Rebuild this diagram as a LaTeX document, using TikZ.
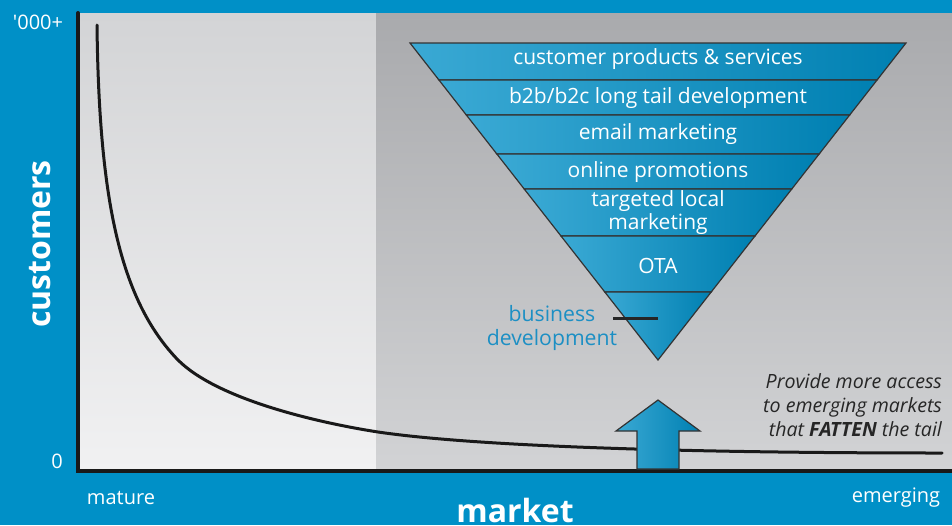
\documentclass[tikz,border=0pt]{standalone}
\usepackage{fontspec}
\setmainfont{Open Sans}
\usepackage{tikz}
\usetikzlibrary{
  positioning,
  calc
}
\definecolor{bgblue}{RGB}{0,144,199}
\definecolor{paneltop}{RGB}{211,212,214}
\definecolor{panelbot}{RGB}{241,241,242}
\definecolor{darktop}{RGB}{169,170,173}
\definecolor{darkbot}{RGB}{210,211,213}
\definecolor{funleft}{RGB}{58,169,212}
\definecolor{funright}{RGB}{0,128,178}
\definecolor{bizblue}{RGB}{28,143,196}

\begin{document}
\begin{tikzpicture}[x=0.5pt,y=-0.5pt,
    funtext/.style={text=white,font=\fontsize{10.5}{10}\selectfont,align=center},
    axtext/.style={text=white,font=\fontsize{10}{11}\selectfont},
    bigtext/.style={text=white,font=\fontsize{16}{17}\selectfont\bfseries}]
    \useasboundingbox (0,0) rectangle (952,525);
    \fill[bgblue] (0,0) rectangle (952,525);
    \shade[top color=paneltop,bottom color=panelbot] (78,13) rectangle (376,471);
    \shade[top color=darktop,bottom color=darkbot] (376,13) rectangle (952,471);

    % axes
    \draw[line width=2pt,black!90,line cap=round] (78,13) -- (78,471) -- (952,471);
    \node[axtext] (ymax) at (38,22) {\textquotesingle 000+};
    \node[axtext] (ymin) at (57,461) {0};
    \node[axtext] (xmin) at (121,498) {mature};
    \node[axtext] (xmax) at (896,498) {emerging};
    \node[bigtext,anchor=base] (xlabel) at (515,522) {market};
    \node[bigtext,rotate=90] (ylabel) at (40,244) {customers};

    % long tail
    \draw[line width=1.5pt,black!90,line cap=round] (97,25)
        .. controls (99,200) and (120,300) .. (178,360)
        .. controls (218,400) and (320,423) .. (378,432)
        .. controls (480,447) and (700,453) .. (942,453);

    % funnel
    \coordinate (fl) at (410,43);
    \coordinate (fr) at (906,43);
    \coordinate (apex) at (658,360);
    \foreach \a/\b in {43/80,80/115,115/154,154/189,189/236,236/292,292/360}
        \shadedraw[left color=funleft,right color=funright,draw=black!80,line width=0.6pt]
            ($(fl)!{(\a-43)/317}!(apex)$) -- ($(fr)!{(\a-43)/317}!(apex)$)
            -- ($(fr)!{(\b-43)/317}!(apex)$) -- ($(fl)!{(\b-43)/317}!(apex)$) -- cycle;
    \node[funtext] (f1) at (658,59) {customer products \& services};
    \node[funtext] (f2) at (658,98) {b2b/b2c long tail development};
    \node[funtext] (f3) at (658,134) {email marketing};
    \node[funtext] (f4) at (658,172) {online promotions};
    \node[funtext] (f5) at (658,213) {targeted local\\marketing};
    \node[funtext] (f6) at (658,266) {OTA};

    \node[text=bizblue,font=\fontsize{10.6}{12}\selectfont,align=center] (biz) at (552,328) {business\\development};
    \coordinate (bizA) at (613,318);
    \coordinate (bizB) at (658,318);
    \draw[line width=1.5pt,black!85] (bizA) -- (bizB);

    % arrow
    \shadedraw[left color=funleft,right color=funright,draw=black!80,line width=0.6pt]
        (637,469) -- (637,431) -- (616,431) -- (658,400) -- (700,431) -- (679,431) -- (679,469) -- cycle;

    \node[anchor=east,align=right,text=black!85,font=\fontsize{9.8}{12}\selectfont\itshape] (note) at (949,405)
        {Provide more access\\to emerging markets\\that \textbf{FATTEN} the tail};
\end{tikzpicture}
\end{document}
